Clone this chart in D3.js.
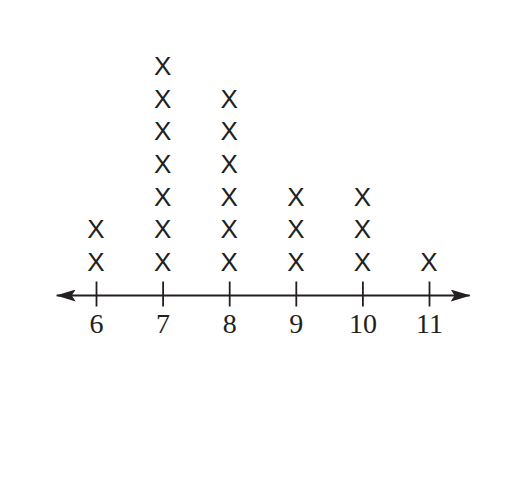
<!DOCTYPE html>
<html><head><meta charset="utf-8">
<script src="https://cdn.jsdelivr.net/npm/d3@7"></script>
<style>body{margin:0;background:#fff}</style>
</head><body>
<svg id="c" width="519" height="504"></svg>
<script>
const values = [6, 7, 8, 9, 10, 11];
const counts = [2, 7, 6, 3, 3, 1];
const tickLabels = ["6", "7", "8", "9", "10", "11"];

const svg = d3.select("#c");
const x = d3.scaleLinear().domain([6, 11]).range([96, 429]);
const y = d3.scaleLinear().domain([1, 7]).range([271, 75]);
const axisY = 295.5;
const ink = "#231f20";

// axis line with arrows
svg.append("defs").append("marker")
  .attr("id", "arr").attr("viewBox", "0 0 20 12").attr("refX", 19).attr("refY", 6)
  .attr("markerWidth", 20).attr("markerHeight", 12).attr("markerUnits", "userSpaceOnUse")
  .attr("orient", "auto-start-reverse")
  .append("path").attr("d", "M0,0 L20,6 L0,12 L4,6 Z").attr("fill", ink);

svg.append("line")
  .attr("x1", x(5.41)).attr("x2", x(11.61))
  .attr("y1", axisY).attr("y2", axisY)
  .attr("stroke", ink).attr("stroke-width", 2)
  .attr("marker-start", "url(#arr)").attr("marker-end", "url(#arr)");

const axis = d3.axisBottom(x).tickValues(values)
  .tickFormat((d, i) => tickLabels[i]).tickSize(12).tickPadding(5.5);
const g = svg.append("g").attr("transform", `translate(0,${axisY})`).call(axis);
g.select(".domain").remove();
g.selectAll(".tick line").attr("y1", -14).attr("y2", 11).attr("stroke", ink).attr("stroke-width", 1.8);
g.selectAll(".tick text").attr("fill", ink)
  .style("font-family", "'Liberation Serif', 'Times New Roman', serif").style("font-size", "28px");

// X marks
const marks = [];
values.forEach((v, i) => { for (let k = 1; k <= counts[i]; k++) marks.push({v, k}); });
svg.selectAll("text.mark").data(marks).enter().append("text")
  .attr("class", "mark")
  .attr("x", d => x(d.v)).attr("y", d => y(d.k))
  .attr("text-anchor", "middle")
  .attr("fill", ink)
  .style("font-family", "'Liberation Sans', Arial, sans-serif").style("font-size", "26px")
  .text("X");
</script>
</body></html>
